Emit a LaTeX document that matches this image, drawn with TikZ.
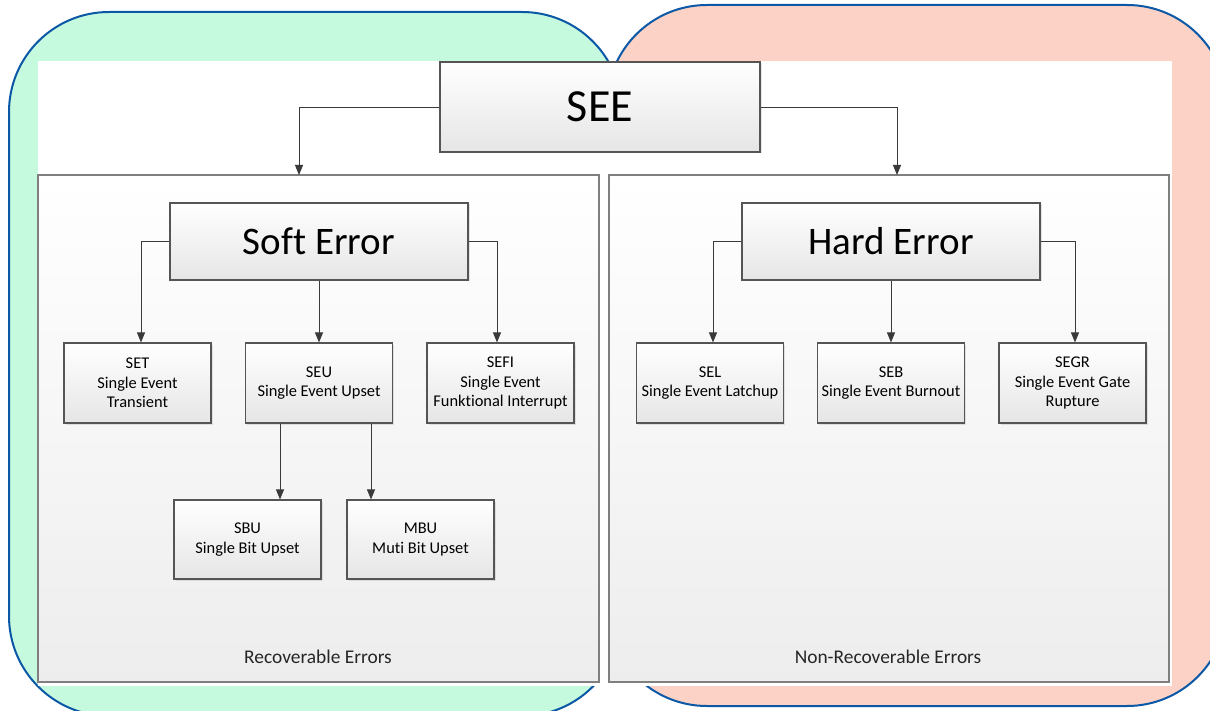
\documentclass[tikz,border=0pt]{standalone}
\usepackage{fontspec}
\setmainfont{Carlito}[Ligatures=NoCommon]
\usetikzlibrary{arrows.meta,shadows}
\definecolor{greenbg}{HTML}{C6FADF}
\definecolor{redbg}{HTML}{FCD2C6}
\definecolor{blueline}{HTML}{0B58A6}
\definecolor{boxline}{HTML}{555555}
\definecolor{panelline}{HTML}{7F7F7F}
\definecolor{arrowc}{HTML}{3A3A3A}
\begin{document}
\begin{tikzpicture}[x=1pt,y=-1pt,
  region/.style={draw=blueline,line width=2pt,rounded corners=100pt},
  panel/.style={draw=panelline,line width=1.8pt,top color=white,bottom color=black!7,inner sep=0pt,
    drop shadow={shadow xshift=1.2pt,shadow yshift=-1.2pt,opacity=0.15}},
  box/.style={draw=boxline,line width=1.1pt,top color=white,bottom color=black!10,inner sep=0pt,
    align=center,drop shadow={shadow xshift=1.5pt,shadow yshift=-1.5pt,opacity=0.2}},
  big/.style={box,font=\fontsize{46}{50}\selectfont},
  mid/.style={box,minimum width=298pt,minimum height=77pt,font=\fontsize{39}{44}\selectfont},
  small/.style={box,minimum width=147pt,minimum height=80pt,font=\fontsize{16.4}{19.5}\selectfont},
  lbl/.style={font=\fontsize{19.4}{22}\selectfont,text=black!85},
  arr/.style={draw=arrowc,line width=0.9pt,-{Triangle[length=10pt,width=8pt]}}]
\clip (0,0) rectangle (1210,711);
\fill[white] (0,0) rectangle (1210,711);
% coloured regions
\path[region,fill=greenbg] (9,12) rectangle (622,716);
\path[region,fill=redbg] (607,5) rectangle (1227,706);
% white sheet
\fill[white] (38,61) rectangle (1172,686);
% panels
\node[panel,minimum width=561pt,minimum height=507pt] (lp) at (318.5,428.5) {};
\node[panel,minimum width=560pt,minimum height=507pt] (rp) at (889,428.5) {};
\node[lbl] (rec) at (318,657) {Recoverable Errors};
\node[lbl] (nrec) at (888,657) {Non-Recoverable Errors};
% top
\node[big,minimum width=320pt,minimum height=90pt] (see) at (600,107) {SEE};
\coordinate (lpin) at (299,175);
\coordinate (rpin) at (897,175);
\draw[arr] (see.west) -| (lpin);
\draw[arr] (see.east) -| (rpin);
% soft
\node[mid] (soft) at (319,241.5) {Soft Error};
\node[small] (set) at (137.5,383) {SET\\Single Event\\Transient};
\node[small] (seu) at (319,383) {SEU\\Single Event Upset};
\node[small] (sefi) at (500.5,383) {SEFI\\Single Event\\Funktional Interrupt};
\draw[arr] (soft.west) -| ([xshift=3.5pt]set.north);
\draw[arr] (soft.south) -- (seu.north);
\draw[arr] (soft.east) -| ([xshift=-3.5pt]sefi.north);
\node[small,minimum height=79pt] (sbu) at (247.5,539.5) {SBU\\Single Bit Upset};
\node[small,minimum height=79pt] (mbu) at (420.5,539.5) {MBU\\Muti Bit Upset};
\draw[arr] ([xshift=-39pt]seu.south) -- ([xshift=-39pt]seu.south |- sbu.north);
\draw[arr] ([xshift=52pt]seu.south) -- ([xshift=52pt]seu.south |- mbu.north);
% hard
\node[mid] (hard) at (891,241.5) {Hard Error};
\node[small] (sel) at (710,383) {SEL\\Single Event Latchup};
\node[small] (seb) at (891,383) {SEB\\Single Event Burnout};
\node[small] (segr) at (1072.5,383) {SEGR\\Single Event Gate\\Rupture};
\draw[arr] (hard.west) -| ([xshift=3pt]sel.north);
\draw[arr] (hard.south) -- (seb.north);
\draw[arr] (hard.east) -| ([xshift=2.5pt]segr.north);
\end{tikzpicture}
\end{document}
